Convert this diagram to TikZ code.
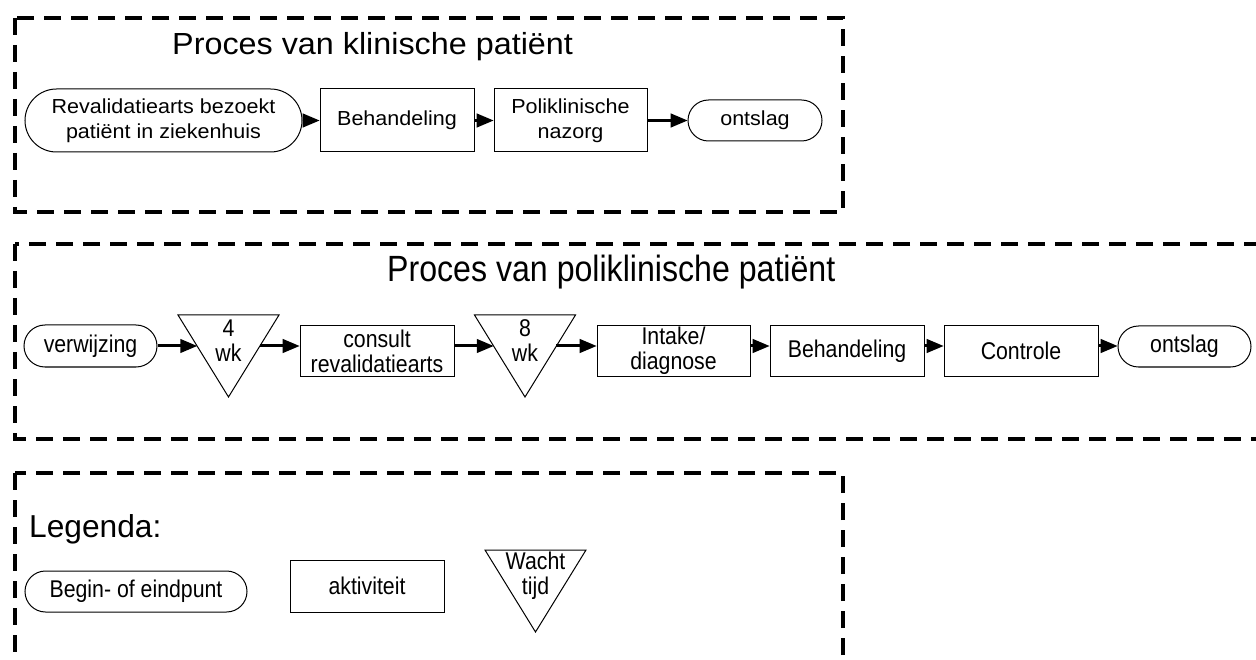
\documentclass[tikz,border=0pt]{standalone}
\usepackage{fontspec}
\setmainfont{Liberation Sans}
\newfontfamily\klfont[FakeStretch=1.06]{Liberation Sans}
\newfontfamily\polfont[FakeStretch=0.88]{Liberation Sans}
\usepackage{tikz}
\usetikzlibrary{shapes.misc}
\usetikzlibrary{arrows}
\usetikzlibrary{calc}
\tikzstyle{activity} = [rectangle, draw=black, line width=1pt, align=center,
inner sep=0pt]
\tikzstyle{terminal} = [activity, rounded rectangle]
\tikzstyle{kl} = [font=\klfont\fontsize{20.3}{25}\selectfont]
\tikzstyle{pol} = [font=\polfont\fontsize{24.2}{25}\selectfont]
\tikzstyle{flow} = [->, >={triangle 45}, line width=3pt]
\tikzstyle{frame} = [draw, line width=4pt, dash pattern=on 17pt off 10pt]
\tikzstyle{heading} = [inner sep=0pt, anchor=base west]
\tikzstyle{waittext} = [pol, inner sep=0pt, align=center]
\newcommand{\edge}[2]{ %
  % Horizontal flow from point #1 to the height-matching point of #2.
  \draw[flow] (#1) -- (#1 -| #2) ;%
}
\newcommand{\wacht}[3]{ %
  \node[waittext] (#1) at (#2) {#3}; %
  \draw[line width=1pt] ($(#1)+(-50.5,-26)$) -- ($(#1)+(50.5,-26)$)
    -- ($(#1)+(0,56)$) -- cycle; %
  \coordinate (#1-in) at ($(#1)+(-31.4,5)$); %
  \coordinate (#1-out) at ($(#1)+(31.4,5)$); %
}

\begin{document}
\begin{tikzpicture}[x=1pt, y=-1pt]
  \useasboundingbox (0,0) rectangle (1256,660);
  % klinische patient
  \path[frame] (15,18) rectangle (843,212);
  \node[heading, font=\klfont\fontsize{30.5}{34}\selectfont] (kltitle) at (172,55)
    {Proces van klinische patiënt};
  \node[terminal, kl, minimum width=277, minimum height=63] (rev) at (163.5,120.5)
    {Revalidatiearts bezoekt\\patiënt in ziekenhuis};
  \node[activity, kl, minimum width=154, minimum height=63] (beh1) at (397,120.5)
    {Behandeling};
  \node[activity, kl, minimum width=153, minimum height=63] (nazorg) at (570.5,120.5)
    {Poliklinische\\nazorg};
  \node[terminal, kl, minimum width=134, minimum height=41] (ontslag1) at (755,120.5)
    {ontslag};
  \edge{rev.east}{beh1.west};
  \edge{beh1.east}{nazorg.west};
  \edge{nazorg.east}{ontslag1.west};

  % poliklinische patient
  \path[frame] (15,244) rectangle (1280,439);
  \node[heading, font=\polfont\fontsize{36.5}{40}\selectfont] (poltitle) at (387,282)
    {Proces van poliklinische patiënt};
  \node[terminal, pol, minimum width=133, minimum height=42] (verw) at (90.5,346)
    {verwijzing};
  \wacht{tri4}{228.5,341}{4\\wk};
  \node[activity, pol, minimum width=154, minimum height=50] (consult) at (377,351)
    {consult\\revalidatiearts};
  \wacht{tri8}{525,341}{8\\wk};
  \node[activity, pol, minimum width=153, minimum height=50] (intake) at (673.5,351)
    {Intake/\\diagnose};
  \node[activity, pol, minimum width=154, minimum height=50] (beh2) at (847,351)
    {Behandeling};
  \node[activity, pol, minimum width=154, minimum height=50] (controle) at (1021,351)
    {Controle};
  \node[terminal, pol, minimum width=133, minimum height=41] (ontslag2) at (1184.5,346.5)
    {ontslag};
  \edge{verw.east}{tri4-in};
  \edge{tri4-out}{consult.west};
  \edge{tri4-out -| consult.east}{tri8-in};
  \edge{tri8-out}{intake.west};
  \edge{tri8-out -| intake.east}{beh2.west};
  \edge{tri8-out -| beh2.east}{controle.west};
  \edge{tri8-out -| controle.east}{ontslag2.west};

  % legenda
  \path[frame] (15,473) rectangle (843,690);
  \node[heading, font=\fontsize{31.7}{35}\selectfont] (legtitle) at (29,537) {Legenda:};
  \node[terminal, pol, minimum width=222, minimum height=41] (begin) at (136,591.5)
    {Begin- of eindpunt};
  \node[activity, pol, minimum width=154, minimum height=52] (akt) at (367,586)
    {aktiviteit};
  \wacht{wt}{535.5,576}{Wacht\\tijd};
\end{tikzpicture}
\end{document}
